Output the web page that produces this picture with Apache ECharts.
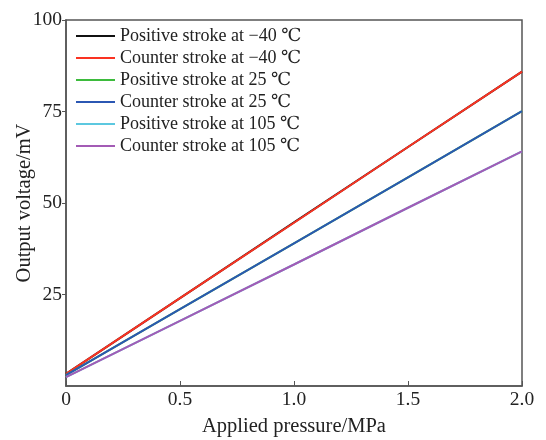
<!DOCTYPE html>
<html>
<head>
<meta charset="utf-8">
<script src="https://cdn.jsdelivr.net/npm/echarts@6/dist/echarts.min.js"></script>
<style>
    html, body { margin: 0; padding: 0; background: #fff; }
    #chart { width: 546px; height: 440px; }
</style>
</head>
<body>
<div id="chart"></div>
<script>
    // applied pressure (MPa)
    var pressure = [0, 0.5, 1.0, 1.5, 2.0];

    // output voltage (mV)
    var posMinus40 = [3.3, 24.0, 44.7, 65.3, 85.9];
    var cntMinus40 = [3.3, 24.0, 44.6, 65.3, 85.9];
    var pos25 = [3.0, 21.0, 39.0, 57.0, 75.1];
    var cnt25 = [3.0, 21.0, 39.0, 57.0, 75.1];
    var pos105 = [2.4, 17.8, 33.2, 48.7, 64.1];
    var cnt105 = [2.4, 17.8, 33.2, 48.7, 64.1];

    var seriesNames = [
        'Positive stroke at \u221240 \u2103',
        'Counter stroke at \u221240 \u2103',
        'Positive stroke at 25 \u2103',
        'Counter stroke at 25 \u2103',
        'Positive stroke at 105 \u2103',
        'Counter stroke at 105 \u2103'
    ];
    var seriesData = [posMinus40, cntMinus40, pos25, cnt25, pos105, cnt105];
    var colors = ['#111111', '#fa3322', '#3dbb3d', '#2b57b3', '#5cc8e0', '#a35bb5'];

    var font = '"Liberation Serif", "DejaVu Serif", serif';

    var series = [];
    for (var i = 0; i < seriesData.length; i++) {
        var pts = [];
        for (var j = 0; j < pressure.length; j++) {
            pts.push([pressure[j], seriesData[i][j]]);
        }
        series.push({
            name: seriesNames[i],
            type: 'line',
            data: pts,
            symbol: 'none',
            lineStyle: { color: colors[i], width: 2 },
            itemStyle: { color: colors[i] },
            z: 2 + i
        });
    }

    var chart = echarts.init(document.getElementById('chart'));
    chart.setOption({
        animation: false,
        backgroundColor: '#fff',
        grid: {
            left: 66, right: 24, top: 20, bottom: 54,
            outerBoundsMode: 'none',
            containLabel: false,
            show: true,
            borderColor: '#555',
            borderWidth: 1.5,
            backgroundColor: 'transparent'
        },
        legend: {
            orient: 'vertical',
            left: 76,
            top: 27,
            padding: 0,
            itemWidth: 39,
            itemHeight: 14,
            itemGap: 4,
            icon: 'path://M0,0 L40,0 L40,2 L0,2 Z',
            textStyle: { fontFamily: font, fontSize: 18, color: '#222' },
            data: seriesNames
        },
        xAxis: {
            type: 'value',
            min: 0, max: 2.0, interval: 0.5,
            name: 'Applied pressure/MPa',
            nameLocation: 'middle',
            nameGap: 30,
            nameMoveOverlap: false,
            nameTextStyle: { fontFamily: font, fontSize: 20.5, color: '#222' },
            axisLine: { show: true, lineStyle: { color: '#555', width: 1.5 } },
            axisTick: { show: true, inside: true, length: 5, lineStyle: { color: '#555' } },
            axisLabel: {
                fontFamily: font, fontSize: 19.5, color: '#222', margin: 4,
                formatter: function (v) { return v === 0 ? '0' : v.toFixed(1); }
            },
            splitLine: { show: false }
        },
        yAxis: {
            type: 'value',
            min: 0, max: 100, interval: 25,
            name: 'Output voltage/mV',
            nameLocation: 'middle',
            nameGap: 31,
            nameMoveOverlap: false,
            nameTextStyle: { fontFamily: font, fontSize: 20.5, color: '#222' },
            axisLine: { show: true, lineStyle: { color: '#555', width: 1.5 } },
            axisTick: { show: true, inside: false, length: 4, lineStyle: { color: '#555' } },
            axisLabel: {
                fontFamily: font, fontSize: 19.5, color: '#222', margin: 4,
                showMinLabel: false
            },
            splitLine: { show: false }
        },
        series: series
    });
</script>
</body>
</html>
